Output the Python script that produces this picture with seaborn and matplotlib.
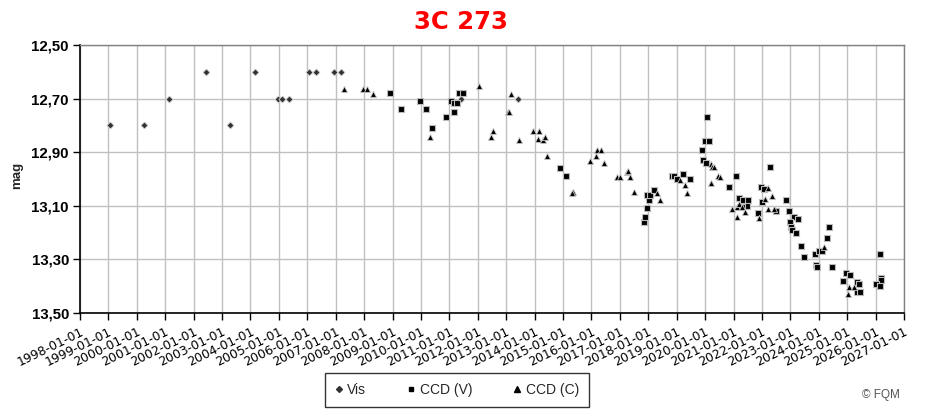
import numpy as np
import pandas as pd
import matplotlib
matplotlib.use("Agg")
import matplotlib.pyplot as plt
import seaborn as sns
from matplotlib.lines import Line2D

# ---------------- data ----------------
title = "3C 273"
years_ticks = list(range(1998, 2028))
tick_labels = [f"{y}-01-01" for y in years_ticks]
mag_ticks = [12.5, 12.7, 12.9, 13.1, 13.3, 13.5]

vis_t = [1999.06, 2000.25, 2001.12, 2002.42, 2003.28, 2004.16, 2004.96, 2005.11,
         2005.36, 2006.06, 2006.31, 2006.94, 2007.19, 2011.41, 2013.42]
vis_m = [12.80, 12.80, 12.70, 12.60, 12.80, 12.60, 12.70, 12.70,
         12.70, 12.60, 12.60, 12.60, 12.60, 12.70, 12.70]

ccdv_t = [2008.91, 2009.29, 2009.96, 2010.18, 2010.39,
          2010.88, 2011.15, 2011.05, 2011.15, 2011.27, 2011.33, 2011.47,
          2014.88, 2015.10,
          2017.84, 2017.90, 2017.96, 2018.02, 2017.97, 2018.07, 2018.19,
          2018.85, 2018.92, 2019.00, 2019.21, 2019.46,
          2020.06, 2019.99, 2020.14, 2019.88, 2019.92, 2020.03,
          2021.09, 2020.83,
          2021.19, 2021.35, 2021.50, 2021.47, 2021.29,
          2021.86,
          2021.96, 2022.08, 2022.29, 2022.01,
          2022.84, 2022.49, 2022.95, 2023.13, 2023.26, 2022.99, 2023.04, 2023.06, 2023.19,
          2023.38, 2023.48, 2023.87, 2023.90, 2023.94, 2024.02, 2024.12, 2024.28, 2024.36, 2024.47,
          2024.96, 2025.10, 2024.86, 2025.34, 2025.42, 2025.34, 2025.46,
          2026.16, 2026.19, 2026.19, 2026.02, 2026.16]
ccdv_m = [12.678, 12.738, 12.708, 12.738, 12.809,
          12.769, 12.750, 12.709, 12.718, 12.718, 12.678, 12.678,
          12.958, 12.988,
          13.159, 13.141, 13.107, 13.077, 13.059, 13.059, 13.041,
          12.988, 12.990, 12.999, 12.980, 12.999,
          12.768, 12.857, 12.857, 12.891, 12.929, 12.939,
          12.989, 13.029,
          13.070, 13.078, 13.078, 13.101, 13.103,
          13.128,
          13.029, 13.038, 12.956, 13.087,
          13.078, 13.119, 13.118, 13.141, 13.149, 13.159, 13.178, 13.190, 13.203,
          13.249, 13.290, 13.280, 13.321, 13.327, 13.269, 13.269, 13.219, 13.178, 13.327,
          13.351, 13.357, 13.379, 13.383, 13.391, 13.421, 13.421,
          13.279, 13.368, 13.377, 13.391, 13.398]

ccdc_t = [2007.29, 2007.95, 2008.10, 2008.32,
          2010.31,
          2012.04,
          2012.54, 2012.48,
          2013.17, 2013.05, 2013.10,
          2013.45, 2013.94, 2014.16, 2014.12, 2014.31, 2014.37, 2014.44,
          2015.35, 2015.32,
          2015.95, 2016.16, 2016.20, 2016.34, 2016.44,
          2016.91, 2017.01, 2017.24, 2017.30, 2017.36, 2017.48,
          2018.31, 2018.43,
          2019.12, 2019.28, 2019.37,
          2020.20, 2020.26, 2020.32, 2020.45, 2020.53, 2020.21,
          2020.94, 2021.11, 2021.19, 2021.30, 2021.42, 2021.11,
          2021.90,
          2022.21, 2022.37, 2022.11, 2022.21, 2022.44,
          2024.19,
          2025.07, 2025.24, 2025.03]
ccdc_m = [12.664, 12.664, 12.664, 12.682,
          12.842,
          12.652,
          12.822, 12.842,
          12.682, 12.751, 12.751,
          12.854, 12.822, 12.822, 12.852, 12.854, 12.842, 12.914,
          13.047, 13.052,
          12.932, 12.913, 12.893, 12.893, 12.941,
          12.991, 12.991, 12.973, 12.970, 12.991, 13.050,
          13.052, 13.079,
          13.003, 13.021, 13.051,
          12.944, 12.954, 12.956, 12.989, 12.993, 13.014,
          13.111, 13.106, 13.092, 13.106, 13.122, 13.143,
          13.144,
          13.032, 13.062, 13.075, 13.111, 13.111,
          13.253,
          13.402, 13.402, 13.430]

series_names = ["Vis", "CCD (V)", "CCD (C)"]

# ---------------- plot ----------------
sns.set_theme(style="white")
plt.rcParams["font.family"] = ["Liberation Sans", "DejaVu Sans"]

fig = plt.figure(figsize=(9.3, 4.15), dpi=100)
ax = fig.add_axes([80/930, 1 - 313/415, (904-80)/930, (313-45)/415])

df = pd.concat([
    pd.DataFrame({"t": vis_t, "mag": vis_m, "series": series_names[0]}),
    pd.DataFrame({"t": ccdv_t, "mag": ccdv_m, "series": series_names[1]}),
    pd.DataFrame({"t": ccdc_t, "mag": ccdc_m, "series": series_names[2]}),
])

styles = {
    "Vis": dict(marker="D", s=13, color="#333333", edgecolor="#dddddd", linewidth=0.6),
    "CCD (V)": dict(marker="s", s=20, color="black", edgecolor="#bbbbbb", linewidth=0.8),
    "CCD (C)": dict(marker="^", s=20, color="black", edgecolor="#cccccc", linewidth=0.6),
}
for name in series_names:
    sub = df[df["series"] == name]
    sns.scatterplot(data=sub, x="t", y="mag", ax=ax, legend=False, zorder=3, **styles[name])

ax.set_xlim(1998, 2027)
ax.set_ylim(13.5, 12.5)
ax.set_xticks(years_ticks)
ax.set_xticklabels(tick_labels, rotation=26, ha="right", rotation_mode="anchor",
                   fontsize=9, color="black", family=["DejaVu Sans"])
ax.set_yticks(mag_ticks)
ax.set_yticklabels([f"{m:.2f}".replace(".", ",") for m in mag_ticks],
                   fontsize=10.8, fontweight="bold", color="black")
ax.grid(True, color="#c0c0c0", linewidth=1.0)
ax.set_axisbelow(True)
ax.tick_params(axis="both", direction="out", length=5, width=1, color="black",
               bottom=True, left=True, pad=3)
ax.tick_params(axis="x", pad=4)
for side in ["left", "bottom"]:
    ax.spines[side].set_color("black")
    ax.spines[side].set_linewidth(1.2)
for side in ["top", "right"]:
    ax.spines[side].set_color("#808080")
    ax.spines[side].set_linewidth(1.0)
ax.set_xlabel("")
ax.set_ylabel("")
fig.text(17/930, 1 - 175/415, "mag", rotation=90, ha="center", va="center",
         fontsize=9.5, fontweight="bold")

fig.text(461/930, 1 - 22/415, title, ha="center", va="center", color="#ff0000",
         fontsize=17.5, fontweight="bold", family=["DejaVu Sans"])

handles = [
    Line2D([], [], linestyle="none", marker="D", markersize=3, color="#333333"),
    Line2D([], [], linestyle="none", marker="s", markersize=3.5, color="black"),
    Line2D([], [], linestyle="none", marker="^", markersize=3.8, color="black"),
]
leg = fig.legend(handles, series_names, loc="center", ncol=3,
                 bbox_to_anchor=(457/930, 1 - 390/415), frameon=True, fancybox=False,
                 edgecolor="black", fontsize=10, handlelength=0.5, handletextpad=0.35,
                 columnspacing=3.0, borderpad=0.75)
leg.get_frame().set_linewidth(1.0)

fig.text(881/930, 1 - 395/415, "© FQM", ha="center", va="center", fontsize=8.5, color="#555555")

fig.savefig("out.png", dpi=100)
